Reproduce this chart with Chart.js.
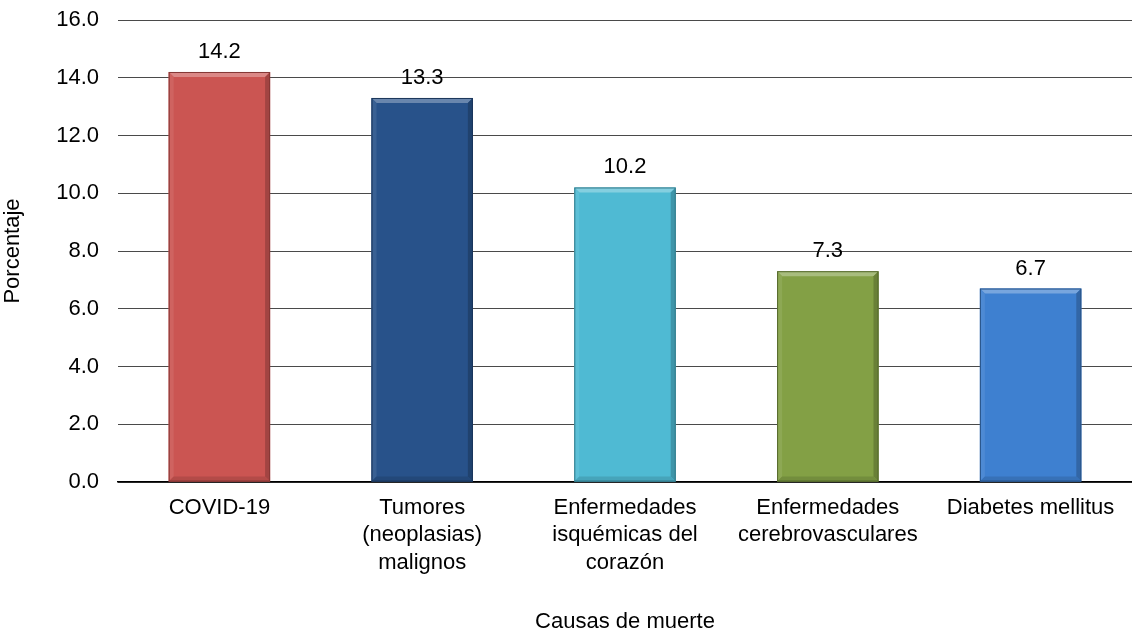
<!DOCTYPE html>
<html>
<head>
<meta charset="utf-8">
<script src="https://cdn.jsdelivr.net/npm/chart.js@4"></script>
<style>
  html, body { margin: 0; padding: 0; background: #fff; }
  #wrap { width: 1132px; height: 637px; }
</style>
</head>
<body>
<div id="wrap"><canvas id="causesChart" width="1132" height="637"></canvas></div>
<script>
var labels = [
  'COVID-19',
  ['Tumores', '(neoplasias)', 'malignos'],
  ['Enfermedades', 'isquémicas del', 'corazón'],
  ['Enfermedades', 'cerebrovasculares'],
  'Diabetes mellitus'
];
var values = [14.2, 13.3, 10.2, 7.3, 6.7];
var barColors = ['#CB5552', '#28528A', '#4FBAD3', '#83A045', '#3E80D0'];

function shade(hex, f) {
  var n = parseInt(hex.slice(1), 16);
  var r = (n >> 16) & 255, g = (n >> 8) & 255, b = n & 255;
  function c(v) {
    v = f >= 0 ? v + (255 - v) * f : v * (1 + f);
    return Math.round(Math.max(0, Math.min(255, v)));
  }
  return 'rgb(' + c(r) + ',' + c(g) + ',' + c(b) + ')';
}

// bevel look + value labels, drawn from the bar elements
var bevelPlugin = {
  id: 'bevel',
  afterDatasetsDraw: function(chart) {
    var ctx = chart.ctx;
    var meta = chart.getDatasetMeta(0);
    meta.data.forEach(function(bar, i) {
      var col = barColors[i];
      var l = bar.x - bar.width / 2, r = bar.x + bar.width / 2;
      var t = bar.y, b = bar.base, e = 5;
      ctx.save();
      // top
      ctx.fillStyle = shade(col, 0.3);
      ctx.beginPath();
      ctx.moveTo(l, t); ctx.lineTo(r, t); ctx.lineTo(r - e, t + e); ctx.lineTo(l + e, t + e);
      ctx.closePath(); ctx.fill();
      // left
      ctx.fillStyle = shade(col, 0.08);
      ctx.beginPath();
      ctx.moveTo(l, t); ctx.lineTo(l + e, t + e); ctx.lineTo(l + e, b - e); ctx.lineTo(l, b);
      ctx.closePath(); ctx.fill();
      // right
      ctx.fillStyle = shade(col, -0.2);
      ctx.beginPath();
      ctx.moveTo(r, t); ctx.lineTo(r - e, t + e); ctx.lineTo(r - e, b - e); ctx.lineTo(r, b);
      ctx.closePath(); ctx.fill();
      // bottom
      ctx.fillStyle = shade(col, -0.12);
      ctx.beginPath();
      ctx.moveTo(l, b); ctx.lineTo(l + e, b - e); ctx.lineTo(r - e, b - e); ctx.lineTo(r, b);
      ctx.closePath(); ctx.fill();
      ctx.strokeStyle = shade(col, -0.35);
      ctx.lineWidth = 1;
      ctx.strokeRect(l + 0.5, t + 0.5, bar.width - 1, b - t - 1);
      // value label
      ctx.fillStyle = '#000';
      ctx.font = '22px "Liberation Sans", Arial, sans-serif';
      ctx.textAlign = 'center';
      ctx.textBaseline = 'alphabetic';
      ctx.fillText(values[i].toFixed(1), bar.x, t - 14);
      ctx.restore();
    });
  }
};

Chart.defaults.font.family = '"Liberation Sans", Arial, sans-serif';
Chart.defaults.color = '#000';

var ctx = document.getElementById('causesChart').getContext('2d');
var causesChart = new Chart(ctx, {
  type: 'bar',
  data: {
    labels: labels,
    datasets: [{
      label: 'Porcentaje',
      data: values,
      backgroundColor: barColors,
      barPercentage: 0.5,
      categoryPercentage: 1.0
    }]
  },
  options: {
    responsive: false,
    animation: false,
    layout: { padding: { top: 20, right: 0, bottom: 0, left: 0 } },
    plugins: {
      legend: { display: false },
      tooltip: { enabled: false }
    },
    scales: {
      x: {
        grid: { display: false, drawTicks: false },
        border: { color: '#000', width: 1.5 },
        ticks: { font: { size: 22, lineHeight: 1.25 }, padding: 12, maxRotation: 0, autoSkip: false },
        title: { display: true, text: 'Causas de muerte', font: { size: 22 }, padding: { top: 4, bottom: 2 } },
        afterFit: function(scale) {
          scale.height = 155;
          scale.paddingLeft = 0;
          scale.paddingRight = 0;
        }
      },
      y: {
        min: 0,
        max: 16,
        ticks: {
          stepSize: 2,
          font: { size: 22 },
          padding: 19,
          callback: function(v) { return v.toFixed(1); }
        },
        grid: { color: '#4a4a4a', lineWidth: 1, drawTicks: false },
        border: { display: false },
        title: { display: true, text: 'Porcentaje', font: { size: 22 }, padding: { top: 0, bottom: 2 } },
        afterFit: function(scale) {
          scale.width = 118;
          scale.paddingTop = 0;
          scale.paddingBottom = 0;
        }
      }
    }
  },
  plugins: [bevelPlugin]
});
</script>
</body>
</html>
